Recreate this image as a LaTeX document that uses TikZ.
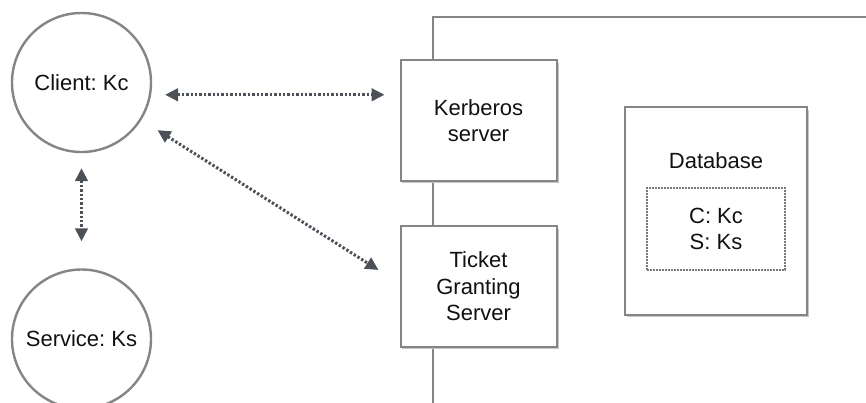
\documentclass[tikz,border=0pt]{standalone}
\usepackage{fontspec}
\setmainfont{Liberation Sans}
\usetikzlibrary{arrows.meta,calc}
\frenchspacing
\definecolor{edge}{HTML}{858585}
\definecolor{arrowc}{HTML}{4C5158}
\definecolor{ink}{HTML}{111111}
\tikzset{
  actor/.style={circle, draw=edge, line width=2.4pt, fill=white, minimum size=139pt,
    inner sep=0pt, text=ink, font=\fontsize{22}{26}\selectfont},
  serverbox/.style={rectangle, draw=edge, line width=2pt, fill=white,
    minimum width=156pt, minimum height=121pt, align=center, text=ink,
    font=\fontsize{22}{26.5}\selectfont},
  dbbox/.style={rectangle, draw=edge, line width=2pt, fill=white,
    minimum width=182pt, minimum height=208pt},
  keybox/.style={rectangle, draw=edge!90!black, line width=1.8pt, dash pattern=on 1.6pt off 1.4pt,
    minimum width=138pt, minimum height=82pt, align=center, text=ink,
    font=\fontsize{22}{26}\selectfont},
  lbl/.style={text=ink, font=\fontsize{22}{26}\selectfont},
  frame/.style={draw=edge, line width=2pt},
  link/.style={draw=arrowc, line width=3pt, dash pattern=on 2.4pt off 2pt,
    {Triangle[length=13pt,width=12.5pt]}-{Triangle[length=13pt,width=12.5pt]}},
  shade/.style={fill=black!22, draw=none}
}
\begin{document}
\begin{tikzpicture}[x=1pt,y=-1pt]
\useasboundingbox (0,0) rectangle (866,402);
\fill[white] (0,0) rectangle (866,402);

% realm frame behind the servers
\coordinate (fbot) at (433,404);
\coordinate (fcorner) at (433,17);
\coordinate (fright) at (868,17);
\draw[frame] (fbot) -- (fcorner) -- (fright);

% soft shadows under the boxes
\fill[shade] (401.5,62.5) rectangle (559,183);
\fill[shade] (401.5,228.5) rectangle (559,349);
\fill[shade] (626.5,109.5) rectangle (809,317);

% servers
\node[serverbox] (kdc) at (478.5,120.5) {Kerberos\\server};
\node[serverbox] (tgs) at (478.5,286.5) {Ticket\\Granting\\Server};

% database with its key table
\node[dbbox] (db) at (716,211) {};
\node[lbl] (dbname) at (716,161) {Database};
\node[keybox] (keys) at (716,229) {C: Kc\\S: Ks};

% principals
\node[actor] (client) at (81.5,82.5) {Client: Kc};
\node[actor] (service) at (81.5,339) {Service: Ks};

% message paths
\coordinate (tgsin) at ($(tgs.north west)+(-21,45)$);
\draw[link, shorten <=14pt, shorten >=15pt] (client.-10) -- (client.-10 -| kdc.west);
\draw[link, shorten <=19pt] (client.-32) -- (tgsin);
\draw[link, shorten <=15pt, shorten >=27pt] (client.south) -- (service.north);
\end{tikzpicture}
\end{document}
